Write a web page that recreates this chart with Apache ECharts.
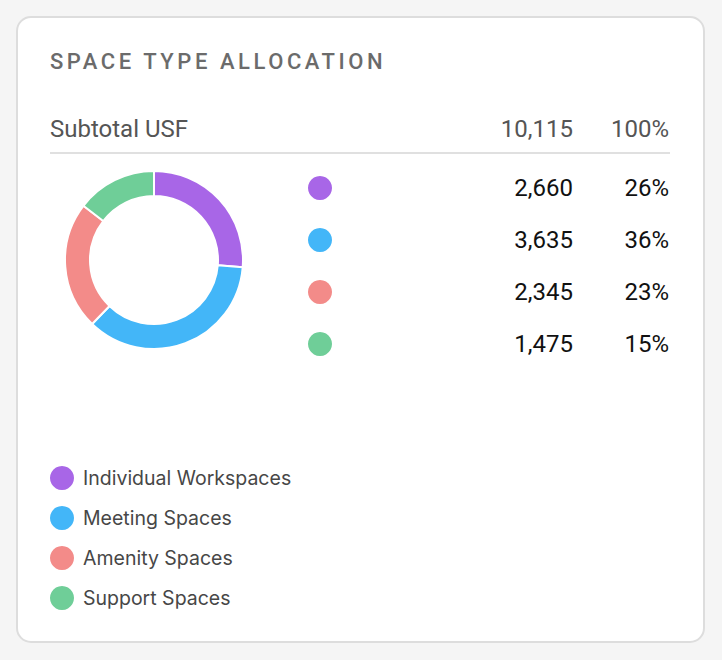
<!DOCTYPE html>
<html><head><meta charset="utf-8">
<script src="https://cdn.jsdelivr.net/npm/echarts@6/dist/echarts.min.js"></script>
<style>
html,body{margin:0;padding:0;background:#f5f5f5;}
#wrap{position:relative;width:722px;height:660px;}
#chart{width:722px;height:660px;}
#title{position:absolute;left:50px;top:51px;font-family:Roboto;font-weight:500;font-size:22px;line-height:22px;letter-spacing:3.55px;color:#6b6b6b;white-space:nowrap;}
</style></head><body>
<div id="wrap"><div id="chart"></div><div id="title"></div></div>
<script>
const titleText = 'SPACE TYPE ALLOCATION';
const categories = ['Individual Workspaces', 'Meeting Spaces', 'Amenity Spaces', 'Support Spaces'];
const usfValues = [2660, 3635, 2345, 1475];
const percentLabels = ['26%', '36%', '23%', '15%'];
const colors = ['#a866e7', '#43b6f8', '#f38b89', '#6fce98'];
const headerLabel = 'Subtotal USF';
const headerValue = '10,115';
const headerPercent = '100%';

document.getElementById('title').textContent = titleText;

const chart = echarts.init(document.getElementById('chart'), null, {renderer: 'svg'});
const fmt = v => v.toLocaleString('en-US');

chart.setOption({
  animation: false,
  color: colors,
  graphic: [
    {type: 'rect', z: -10, shape: {x: 17, y: 17, width: 687, height: 625, r: 14},
     style: {fill: '#ffffff', stroke: '#dddddd', lineWidth: 2}},
    {type: 'text', style: {x: 50, y: 129, text: headerLabel, fill: '#555555', font: '24px Roboto', align: 'left', verticalAlign: 'middle'}},
    {type: 'text', style: {x: 573, y: 129, text: headerValue, fill: '#555555', font: '24px Roboto', align: 'right', verticalAlign: 'middle'}},
    {type: 'text', style: {x: 669, y: 129, text: headerPercent, fill: '#555555', font: '24px Roboto', align: 'right', verticalAlign: 'middle'}},
    {type: 'line', shape: {x1: 50, y1: 153, x2: 670, y2: 153}, style: {stroke: '#e0e0e0', lineWidth: 2}}
  ],
  legend: [
    {
      orient: 'vertical', left: 50, top: 466, padding: 0,
      icon: 'circle', itemWidth: 24, itemHeight: 24, itemGap: 16,
      itemStyle: {borderWidth: 0},
      data: categories,
      textStyle: {fontFamily: 'Inter', fontSize: 19.5, color: '#474747', padding: [0, 0, 0, 4]}
    },
    {
      orient: 'vertical', left: 308, top: 176, padding: 0,
      icon: 'circle', itemWidth: 24, itemHeight: 24, itemGap: 28,
      itemStyle: {borderWidth: 0},
      data: categories,
      formatter: name => {
        const i = categories.indexOf(name);
        return '{v|' + fmt(usfValues[i]) + '}{p|' + percentLabels[i] + '}';
      },
      textStyle: {
        rich: {
          v: {width: 236, align: 'right', fontFamily: 'Roboto', fontSize: 24, color: '#111111', lineHeight: 24},
          p: {width: 96, align: 'right', fontFamily: 'Roboto', fontSize: 24, color: '#111111', lineHeight: 24}
        }
      }
    }
  ],
  series: [{
    type: 'pie',
    center: [154, 260],
    radius: [64, 89],
    startAngle: 90,
    clockwise: true,
    label: {show: false},
    labelLine: {show: false},
    emphasis: {scale: false},
    itemStyle: {borderColor: '#ffffff', borderWidth: 2},
    data: categories.map((c, i) => ({name: c, value: usfValues[i]}))
  }]
});
</script>
</body></html>
